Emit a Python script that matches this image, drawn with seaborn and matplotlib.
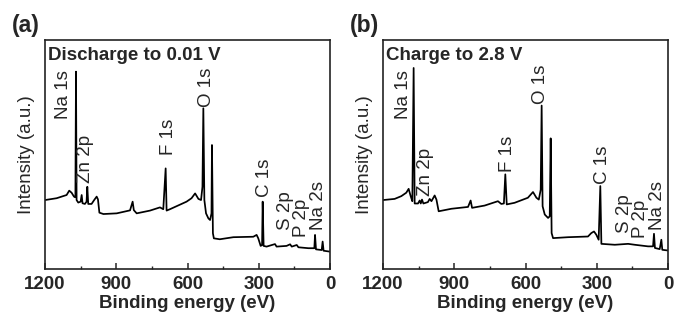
import numpy as np
import pandas as pd
import seaborn as sns
import matplotlib
matplotlib.use("Agg")
import matplotlib.pyplot as plt
from matplotlib.ticker import MultipleLocator

# ---------------- data ----------------
energy_a = [1200, 1151, 1109, 1098, 1088, 1078, 1072, 1069.5, 1067, 1060, 1050, 1045.6, 1042,
            1032, 1025, 1021.8, 1018, 1004, 993, 982.5, 977, 971, 954, 898, 842, 831, 826, 814,
            758, 716, 702, 692, 688, 674, 604, 583, 568, 554, 543, 537, 533.3, 529, 522, 512, 505,
            499, 497, 493, 489, 464, 407, 323, 309, 302, 292, 286, 283.5, 279.5, 267, 231.6, 225,
            183, 168, 161, 140, 133, 91, 84, 66, 63, 59, 35, 31, 27, 0]
intensity_a = [0.302, 0.310, 0.324, 0.343, 0.334, 0.317, 0.314, 0.862, 0.302, 0.291, 0.295, 0.324,
               0.288, 0.285, 0.295, 0.360, 0.285, 0.285, 0.302, 0.317, 0.305, 0.247, 0.241, 0.244,
               0.257, 0.295, 0.258, 0.244, 0.256, 0.270, 0.262, 0.440, 0.256, 0.262, 0.295, 0.310,
               0.331, 0.307, 0.302, 0.360, 0.702, 0.302, 0.244, 0.222, 0.215, 0.244, 0.542, 0.157,
               0.135, 0.131, 0.140, 0.142, 0.150, 0.135, 0.102, 0.106, 0.295, 0.102, 0.099, 0.110,
               0.099, 0.102, 0.109, 0.099, 0.106, 0.096, 0.092, 0.092, 0.092, 0.150, 0.087, 0.084,
               0.121, 0.081, 0.077]

energy_b = [1200, 1151, 1123, 1102, 1092, 1083.5, 1076.5, 1071, 1066.7, 1052.6, 1045.6, 1041,
            1035.8, 1030, 1011, 1003.5, 996, 982.5, 975, 965.6, 912, 842, 831, 825, 772, 716,
            702, 691, 685, 679, 646, 590, 568.4, 554, 544, 536, 532, 528, 519, 505, 498, 494, 490,
            484, 421, 337, 323, 311.6, 302, 292, 285, 280.5, 224, 168, 140, 84, 63, 59, 55, 35,
            28, 24, 0]
intensity_b = [0.302, 0.307, 0.319, 0.334, 0.351, 0.319, 0.297, 0.878, 0.287, 0.287, 0.300, 0.287,
               0.304, 0.287, 0.293, 0.307, 0.297, 0.322, 0.304, 0.253, 0.264, 0.272, 0.300, 0.268,
               0.278, 0.297, 0.285, 0.287, 0.414, 0.283, 0.290, 0.312, 0.337, 0.312, 0.304, 0.347,
               0.714, 0.275, 0.239, 0.224, 0.231, 0.571, 0.158, 0.136, 0.140, 0.143, 0.158, 0.165,
               0.151, 0.129, 0.363, 0.111, 0.107, 0.111, 0.107, 0.100, 0.100, 0.155, 0.093, 0.088,
               0.129, 0.085, 0.082]

peak_names = ["Na 1s", "Zn 2p", "F 1s", "O 1s", "C 1s", "S 2p", "P 2p", "Na 2s"]
label_x_a = [1124, 1030, 682, 518, 274, 186, 119, 47]
label_y_a = [0.655, 0.376, 0.499, 0.708, 0.315, 0.171, 0.141, 0.171]
label_x_b = [1112, 1019, 674, 535, 274, 182, 115, 46]
label_y_b = [0.656, 0.318, 0.423, 0.722, 0.370, 0.160, 0.138, 0.173]

panel_tags = ["(a)", "(b)"]
conditions = ["Discharge to 0.01 V", "Charge to 2.8 V"]
xlabel = "Binding energy (eV)"
ylabel = "Intensity (a.u.)"

# ---------------- style ----------------
sns.set_style("ticks")
plt.rcParams["font.family"] = ["Liberation Sans", "DejaVu Sans"]
plt.rcParams["axes.linewidth"] = 1.2
plt.rcParams["axes.edgecolor"] = "#222222"

fig = plt.figure(figsize=(6.75, 3.23), dpi=100)
W, H = 675, 323
axes = [fig.add_axes([45 / W, 1 - 269.3 / H, 285 / W, 229.3 / H]),
        fig.add_axes([383 / W, 1 - 269.3 / H, 285 / W, 229.3 / H])]

datasets = [(energy_a, intensity_a, label_x_a, label_y_a),
            (energy_b, intensity_b, label_x_b, label_y_b)]

FS = 13.5
for i, (ax, (ex, iy, lx, ly)) in enumerate(zip(axes, datasets)):
    df = pd.DataFrame({"E": ex, "I": iy})
    sns.lineplot(data=df, x="E", y="I", ax=ax, color="black", linewidth=1.25,
                 estimator=None, sort=False)
    ax.set_xlim(1200, 0)
    ax.set_ylim(0, 1)
    ax.xaxis.set_major_locator(MultipleLocator(300))
    ax.xaxis.set_minor_locator(MultipleLocator(150))
    ax.tick_params(axis="x", which="major", direction="in", length=4, width=1.1,
                   pad=5, labelsize=FS)
    ax.tick_params(axis="x", which="minor", direction="in", length=2.5, width=1.0)
    ax.tick_params(axis="x", top=False)
    ax.set_yticks([])
    for lab in ax.get_xticklabels():
        lab.set_fontweight("bold")
    ax.set_xlabel(xlabel, fontsize=FS, fontweight="bold", labelpad=1)
    ax.set_ylabel(ylabel, fontsize=FS, labelpad=7)
    for sp in ax.spines.values():
        sp.set_visible(True)
    for name, x, y in zip(peak_names, lx, ly):
        ax.text(x, y, name, rotation=90, ha="center", va="bottom", fontsize=FS)
    ax.text(0.01, 0.97, conditions[i], transform=ax.transAxes, ha="left", va="top",
            fontsize=FS, fontweight="bold")
    ax.text(-0.115, 1.112, panel_tags[i], transform=ax.transAxes, ha="left", va="top",
            fontsize=16.5, fontweight="bold")

fig.savefig("out.png", dpi=100)
